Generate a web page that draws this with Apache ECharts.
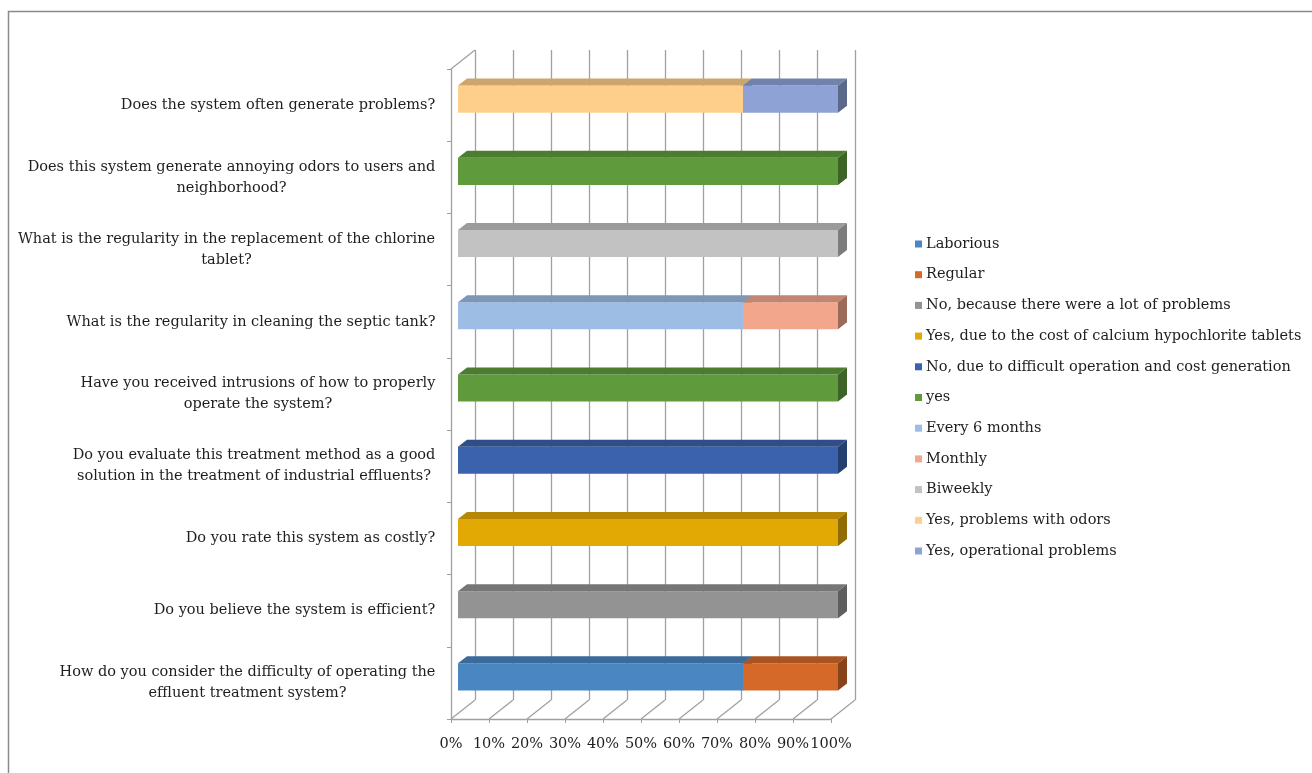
<!DOCTYPE html>
<html>
<head>
<meta charset="utf-8">
<script src="https://cdn.jsdelivr.net/npm/echarts@6/dist/echarts.min.js"></script>
<style>
  html, body { margin: 0; padding: 0; background: #ffffff; }
  #chart { width: 1312px; height: 773px; }
</style>
</head>
<body>
<div id="chart"></div>
<script>
// Survey questions, top to bottom
const categories = [
  'Does the system often generate problems?',
  'Does this system generate annoying odors to users and\nneighborhood?',
  'What is the regularity in the replacement of the chlorine\ntablet?',
  'What is the regularity in cleaning the septic tank?',
  'Have you received intrusions of how to properly\noperate the system?',
  'Do you evaluate this treatment method as a good\nsolution in the treatment of industrial effluents?',
  'Do you rate this system as costly?',
  'Do you believe the system is efficient?',
  'How do you consider the difficulty of operating the\neffluent treatment system?'
];

// Answer shares (%) per question, same order as categories
const laborious      = [0, 0, 0, 0, 0, 0, 0, 0, 75];
const regular        = [0, 0, 0, 0, 0, 0, 0, 0, 25];
const noProblems     = [0, 0, 0, 0, 0, 0, 0, 100, 0];
const yesCost        = [0, 0, 0, 0, 0, 0, 100, 0, 0];
const noDifficult    = [0, 0, 0, 0, 0, 100, 0, 0, 0];
const yesAnswer      = [0, 100, 0, 0, 100, 0, 0, 0, 0];
const every6Months   = [0, 0, 0, 75, 0, 0, 0, 0, 0];
const monthly        = [0, 0, 0, 25, 0, 0, 0, 0, 0];
const biweekly       = [0, 0, 100, 0, 0, 0, 0, 0, 0];
const yesOdors       = [75, 0, 0, 0, 0, 0, 0, 0, 0];
const yesOperational = [25, 0, 0, 0, 0, 0, 0, 0, 0];

const seriesNames = [
  'Laborious',
  'Regular',
  'No, because there were a lot of problems',
  'Yes, due to the cost of calcium hypochlorite tablets',
  'No, due to difficult operation and cost generation',
  'yes',
  'Every 6 months',
  'Monthly',
  'Biweekly',
  'Yes, problems with odors',
  'Yes, operational problems'
];
const seriesValues = [
  laborious, regular, noProblems, yesCost, noDifficult, yesAnswer,
  every6Months, monthly, biweekly, yesOdors, yesOperational
];
const seriesColors = [
  '#4a86c2', '#d4692a', '#939393', '#e2a905', '#3a62ad', '#5f9b3c',
  '#9dbde4', '#f2a68b', '#c2c2c2', '#fecf8a', '#8fa2d6'
];

const xTicks = [0, 10, 20, 30, 40, 50, 60, 70, 80, 90, 100];

// ---- layout of the pseudo-3D box ----
const FRONT = { left: 451, top: 69, width: 380, height: 650 };
const DEPTH = [24, 19];          // front plane -> back wall
const FACE_SHIFT = [7, 6];       // front plane -> bar front face
const BAR_DEPTH = [9, 7];        // thickness of each bar
const BAR_RATIO = 0.375;         // bar height relative to band
const GRID_COLOR = '#a0a0a0';
const FONT = '"DejaVu Serif", serif';
const FONT_SIZE = 14.5;

function shade(hex, k) {
  const n = parseInt(hex.slice(1), 16);
  const r = Math.round(((n >> 16) & 255) * k);
  const g = Math.round(((n >> 8) & 255) * k);
  const b = Math.round((n & 255) * k);
  return 'rgb(' + r + ',' + g + ',' + b + ')';
}

// Width of each label block so that its lines can be centred on each other
const measureCtx = document.createElement('canvas').getContext('2d');
measureCtx.font = FONT_SIZE + 'px ' + FONT;
const labelRich = {};
categories.forEach(function (c, i) {
  const w = Math.max.apply(null, c.split('\n').map(function (l) { return measureCtx.measureText(l).width; }));
  labelRich['r' + i] = {
    width: Math.ceil(w) + 1, align: 'center',
    fontFamily: FONT, fontSize: FONT_SIZE, lineHeight: 21, color: '#1e1e1e'
  };
});

// Stacked start/end for each series and question
const cumulative = categories.map(function () { return 0; });
const stackedData = seriesValues.map(function (vals) {
  const out = [];
  vals.forEach(function (v, i) {
    if (v > 0) out.push([cumulative[i], cumulative[i] + v, i]);
    cumulative[i] += v;
  });
  return out;
});

function barRenderer(color) {
  const topColor = shade(color, 0.8);
  const sideColor = shade(color, 0.64);
  return function (params, api) {
    const a = api.coord([api.value(0), api.value(2)]);
    const b = api.coord([api.value(1), api.value(2)]);
    const h = api.size([0, 1])[1] * BAR_RATIO;
    const x0 = a[0] + FACE_SHIFT[0];
    const x1 = b[0] + FACE_SHIFT[0];
    const yc = a[1] - FACE_SHIFT[1];
    const yt = yc - h / 2, yb = yc + h / 2;
    const dx = BAR_DEPTH[0], dy = BAR_DEPTH[1];
    return {
      type: 'group',
      children: [
        { type: 'rect', shape: { x: x0, y: yt, width: x1 - x0, height: h }, style: { fill: color } },
        { type: 'polygon', shape: { points: [[x0, yt], [x1, yt], [x1 + dx, yt - dy], [x0 + dx, yt - dy]] }, style: { fill: topColor } },
        { type: 'polygon', shape: { points: [[x1, yt], [x1 + dx, yt - dy], [x1 + dx, yb - dy], [x1, yb]] }, style: { fill: sideColor } }
      ]
    };
  };
}

// Floor lines and the top edge of the left wall
function frameRenderer(params, api) {
  const cs = params.coordSys;
  const x = api.coord([api.value(0), 0])[0];
  const bottom = cs.y + cs.height;
  const children = [{
    type: 'line',
    shape: { x1: x, y1: bottom, x2: x + DEPTH[0], y2: bottom - DEPTH[1] },
    style: { stroke: GRID_COLOR, lineWidth: 1.3 }
  }];
  if (api.value(0) === 0) {
    children.push({
      type: 'line',
      shape: { x1: x, y1: cs.y, x2: x + DEPTH[0], y2: cs.y - DEPTH[1] },
      style: { stroke: GRID_COLOR, lineWidth: 1.3 }
    });
  }
  return { type: 'group', children: children };
}

const chart = echarts.init(document.getElementById('chart'), null, { renderer: 'canvas' });

const barSeries = seriesNames.map(function (name, k) {
  return {
    name: name,
    type: 'custom',
    xAxisIndex: 0,
    yAxisIndex: 0,
    z: 5,
    itemStyle: { color: seriesColors[k] },
    renderItem: barRenderer(seriesColors[k]),
    encode: { x: [0, 1], y: 2 },
    data: stackedData[k],
    silent: true
  };
});

chart.setOption({
  animation: false,
  backgroundColor: '#ffffff',
  graphic: [{
    type: 'rect',
    shape: { x: 8.5, y: 11.5, width: 1400, height: 800 },
    style: { fill: 'none', stroke: '#8a8a8a', lineWidth: 1.5 },
    z: -10
  }],
  legend: {
    orient: 'vertical',
    left: 910,
    top: 231,
    itemWidth: 7,
    itemHeight: 7,
    itemGap: 14.7,
    icon: 'rect',
    data: seriesNames,
    selectedMode: false,
    textStyle: { fontFamily: FONT, fontSize: FONT_SIZE, color: '#1e1e1e', lineHeight: 16, padding: [0, 0, 0, -1] }
  },
  grid: [
    { left: FRONT.left, top: FRONT.top, width: FRONT.width, height: FRONT.height },
    { left: FRONT.left + DEPTH[0], top: FRONT.top - DEPTH[1], width: FRONT.width, height: FRONT.height }
  ],
  xAxis: [
    {
      gridIndex: 0, type: 'value', min: 0, max: 100, interval: 10,
      axisLine: { show: true, lineStyle: { color: GRID_COLOR, width: 1.3 } },
      axisTick: { show: true, length: 4, lineStyle: { color: GRID_COLOR } },
      splitLine: { show: false },
      axisLabel: {
        formatter: '{value}%', margin: 18,
        fontFamily: FONT, fontSize: FONT_SIZE, color: '#1e1e1e'
      }
    },
    {
      gridIndex: 1, type: 'value', min: 0, max: 100, interval: 10,
      axisLine: { show: false }, axisTick: { show: false }, axisLabel: { show: false },
      splitLine: { show: true, lineStyle: { color: GRID_COLOR, width: 1.3 } }
    }
  ],
  yAxis: [
    {
      gridIndex: 0, type: 'category', data: categories, inverse: true,
      axisLine: { show: true, lineStyle: { color: GRID_COLOR, width: 1.3 } },
      axisTick: { show: true, length: 4, lineStyle: { color: GRID_COLOR } },
      splitLine: { show: false },
      axisLabel: {
        margin: 15,
        align: 'right',
        formatter: function (value, index) {
          return value.split('\n').map(function (l) { return '{r' + index + '|' + l + '}'; }).join('\n');
        },
        rich: labelRich
      }
    },
    {
      gridIndex: 1, type: 'category', data: categories, inverse: true,
      show: false
    }
  ],
  series: barSeries.concat([{
    name: 'frame',
    type: 'custom',
    xAxisIndex: 0,
    yAxisIndex: 0,
    z: 1,
    silent: true,
    renderItem: frameRenderer,
    encode: { x: 0 },
    data: xTicks.map(function (v) { return [v]; })
  }])
});
</script>
</body>
</html>
